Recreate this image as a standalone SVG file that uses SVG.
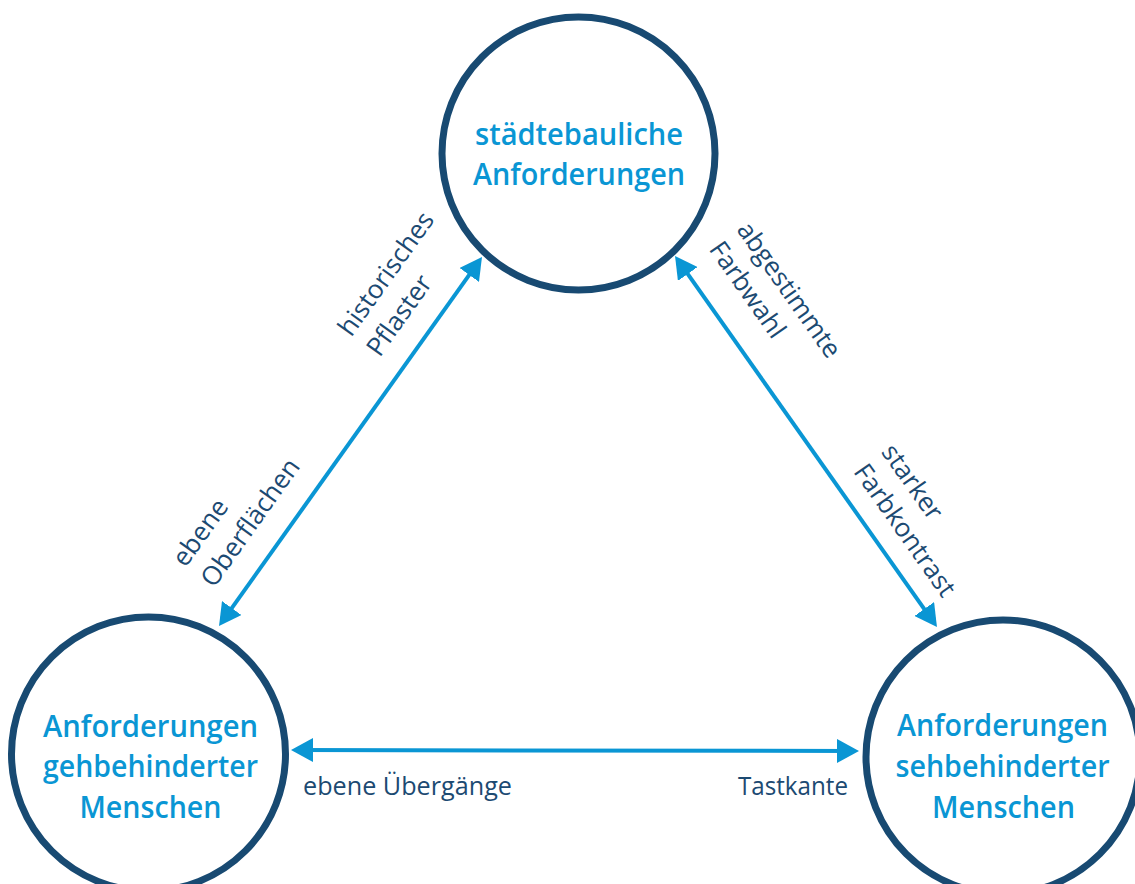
<svg xmlns="http://www.w3.org/2000/svg" width="1135" height="884" viewBox="0 0 1135 884">
  <style>
    .node circle { fill: #ffffff; stroke: #184a72; stroke-width: 7; }
    .node text { font-family: "Open Sans", "Noto Sans", sans-serif; font-weight: 600; font-size: 30px; fill: #0a96d4; text-anchor: middle; }
    .conn line { stroke: #0a96d4; stroke-width: 4; fill: none; }
    .lbl { font-family: "Open Sans", "Noto Sans", sans-serif; font-weight: 400; font-size: 26px; fill: #1c4a72; }
  </style>
  <defs>
    <marker id="ah" viewBox="0 0 22 24" refX="16" refY="12" markerWidth="22" markerHeight="24" markerUnits="userSpaceOnUse" orient="auto-start-reverse">
      <path d="M0,0 L22,12 L0,24 Z" fill="#0a96d4"/>
    </marker>
  </defs>
  <rect width="1135" height="884" fill="#ffffff"/>

  <g id="node-staedtebau" class="node">
    <circle cx="578.5" cy="153.5" r="136.5"/>
    <text x="579" y="145" textLength="208" lengthAdjust="spacingAndGlyphs">städtebauliche</text>
    <text x="579" y="185" textLength="212" lengthAdjust="spacingAndGlyphs">Anforderungen</text>
  </g>

  <g id="node-gehbehindert" class="node">
    <circle cx="148.5" cy="754" r="137"/>
    <text x="150.5" y="737" textLength="215" lengthAdjust="spacingAndGlyphs">Anforderungen</text>
    <text x="150.5" y="777" textLength="215" lengthAdjust="spacingAndGlyphs">gehbehinderter</text>
    <text x="150.5" y="818" textLength="142" lengthAdjust="spacingAndGlyphs">Menschen</text>
  </g>

  <g id="node-sehbehindert" class="node">
    <circle cx="1003" cy="757" r="137"/>
    <text x="1002.5" y="736" textLength="211" lengthAdjust="spacingAndGlyphs">Anforderungen</text>
    <text x="1002.5" y="777" textLength="214" lengthAdjust="spacingAndGlyphs">sehbehinderter</text>
    <text x="1003.5" y="818" textLength="143" lengthAdjust="spacingAndGlyphs">Menschen</text>
  </g>

  <g id="connectors" class="conn">
    <line x1="222.5" y1="621.1" x2="478.5" y2="261.9" marker-start="url(#ah)" marker-end="url(#ah)"/>
    <line x1="678.5" y1="260.9" x2="933.5" y2="622.1" marker-start="url(#ah)" marker-end="url(#ah)"/>
    <line x1="297" y1="750" x2="853" y2="751" marker-start="url(#ah)" marker-end="url(#ah)"/>
  </g>

  <g id="labels">
    <g transform="rotate(-54.5)">
      <text class="lbl" x="-71" y="482">historisches</text>
      <text class="lbl" x="-71" y="517">Pflaster</text>
      <text class="lbl" x="-355" y="481">ebene</text>
      <text class="lbl" x="-355" y="516">Oberflächen</text>
    </g>
    <g transform="rotate(54.8)">
      <text class="lbl" x="612" y="-469">abgestimmte</text>
      <text class="lbl" x="612" y="-435">Farbwahl</text>
      <text class="lbl" x="877" y="-459">starker</text>
      <text class="lbl" x="877" y="-425">Farbkontrast</text>
    </g>
    <text class="lbl" x="303" y="795" textLength="209" lengthAdjust="spacingAndGlyphs">ebene Übergänge</text>
    <text class="lbl" x="848" y="795" text-anchor="end" textLength="110" lengthAdjust="spacingAndGlyphs">Tastkante</text>
  </g>
</svg>
